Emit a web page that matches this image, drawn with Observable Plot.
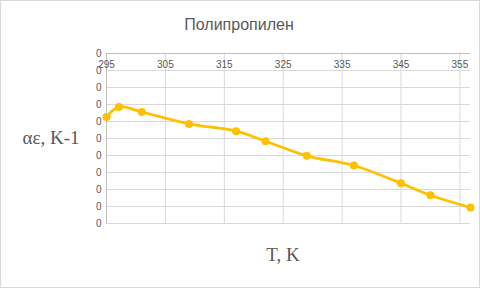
<!DOCTYPE html>
<html><head><meta charset="utf-8">
<script src="https://cdn.jsdelivr.net/npm/d3@7"></script>
<script src="https://cdn.jsdelivr.net/npm/@observablehq/plot@0.6"></script>
<style>
body{margin:0;background:#fff}
#wrap{position:relative;width:480px;height:288px;overflow:hidden;background:#fff}
#border{position:absolute;left:0;top:0;width:480px;height:288px;box-sizing:border-box;border:1px solid #d9d9d9;pointer-events:none}
.t{position:absolute;color:#595959;white-space:nowrap;line-height:1;transform:translate(-50%,-50%)}
#title{left:239px;top:25px;font:16px "Liberation Sans"}
#ytitle{left:51px;top:138px;font:19px "Liberation Serif"}
#xtitle{left:283px;top:255px;font:19px "Liberation Serif"}
#wrap svg{position:absolute;left:0;top:0}
</style></head>
<body>
<div id="wrap">
  <div class="t" id="title">Полипропилен</div>
  <div class="t" id="ytitle">αε, K-1</div>
  <div class="t" id="xtitle">T, K</div>
  <div id="border"></div>
</div>
<script>
const temperature = [295, 297.1, 301, 309, 317, 322, 329, 337, 345, 350, 356.8];
const alpha = [0.000627, 0.000686, 0.000656, 0.000586, 0.000543, 0.000484, 0.000398, 0.000341, 0.000237, 0.000166, 0.000094];
const xTicks = [295, 305, 315, 325, 335, 345, 355];
const yTicks = [0, 0.0001, 0.0002, 0.0003, 0.0004, 0.0005, 0.0006, 0.0007, 0.0008, 0.0009, 0.001];

const data = temperature.map((T, i) => ({T, a: alpha[i]}));

const chart = Plot.plot({
  width: 480, height: 288,
  marginLeft: 106, marginRight: 10, marginTop: 53, marginBottom: 65,
  x: {domain: [295, 356.8]},
  y: {domain: [0, 0.001]},
  style: {fontFamily: "Liberation Sans", fontSize: "10px", color: "#595959", background: "transparent"},
  marks: [
    Plot.gridY(yTicks, {stroke: "#d9d9d9", strokeOpacity: 1}),
    Plot.gridX(xTicks, {stroke: "#d9d9d9", strokeOpacity: 1}),
    Plot.ruleY([0.001], {stroke: "#bfbfbf"}),
    Plot.ruleX([295], {stroke: "#bfbfbf"}),
    Plot.axisY(yTicks, {tickSize: 0, tickPadding: 5, tickFormat: d3.format(".0f"), label: null}),
    Plot.axisX(xTicks, {anchor: "top", tickSize: 0, tickPadding: 0, dy: 14, label: null}),
    Plot.line(data, {x: "T", y: "a", stroke: "#FFC000", strokeWidth: 2.75, curve: "catmull-rom"}),
    Plot.dot(data, {x: "T", y: "a", r: 4, fill: "#FFC000", stroke: "none"})
  ]
});
document.getElementById("wrap").insertBefore(chart, document.getElementById("border"));
</script>
</body></html>
